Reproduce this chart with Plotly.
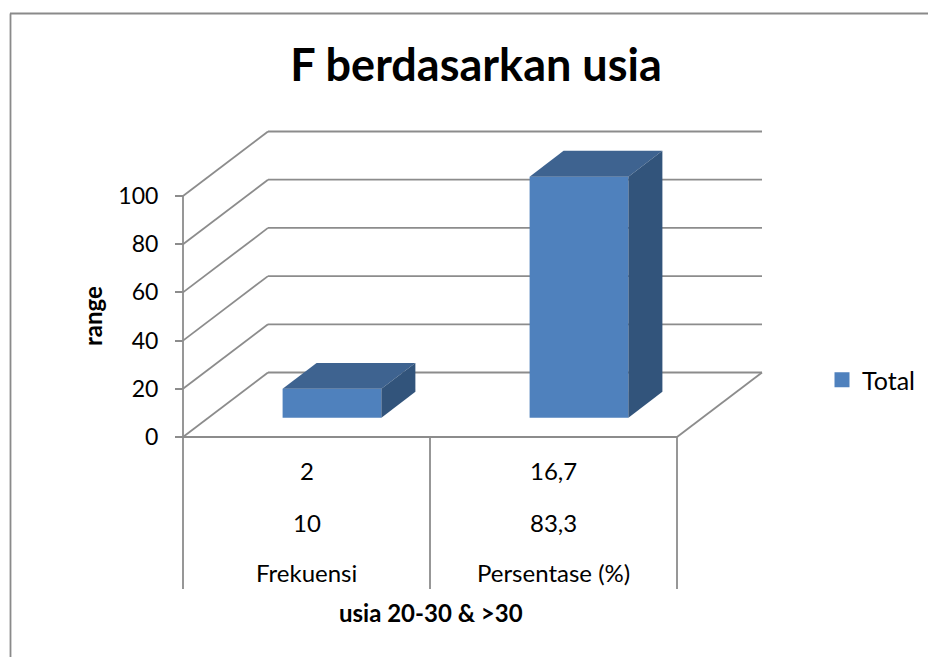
import plotly.graph_objects as go

categories = ["Frekuensi", "Persentase (%)"]
row_top = [2, 16.7]
row_mid = [10, 83.3]
row_top_labels = ["2", "16,7"]
row_mid_labels = ["10", "83,3"]
y_ticks = [0, 20, 40, 60, 80, 100]
series_name = "Total"
totals = [a + b for a, b in zip(row_top, row_mid)]

W, H = 928, 657
X0, BAND = 183.0, 247.0        # px of the first category edge, px per category
Y0, UNIT = 437.0, 2.41         # px of value 0, px per value unit
DEPTH_X = 85 / BAND            # floor depth in x units
DEPTH_Y = 64.5 / UNIT          # floor depth in y units
BAR_W = 0.4
D0, D1 = 0.3, 0.7              # bar start / end along the depth
n = len(categories)

GRID = "#8C8C8C"
BLUE = "#4F81BD"
FONT = "Lato, Carlito, sans-serif"


def px_y(p):
    return (Y0 - p) / UNIT


shapes = [
    dict(type="line", xref="paper", yref="paper", x0=10.5 / W, x1=10.5 / W, y0=0, y1=1 - 13.5 / H,
         line=dict(color="#8A8A8A", width=1.8), layer="below"),
    dict(type="line", xref="paper", yref="paper", x0=10 / W, x1=1, y0=1 - 13.5 / H, y1=1 - 13.5 / H,
         line=dict(color="#8A8A8A", width=1.8), layer="below"),
]


def seg(x0, y0, x1, y1):
    return dict(type="line", xref="x", yref="y", x0=x0, y0=y0, x1=x1, y1=y1,
                line=dict(color=GRID, width=1.8), layer="below")


for t in y_ticks:
    shapes.append(seg(0, t, DEPTH_X, t + DEPTH_Y))
    shapes.append(seg(DEPTH_X, t + DEPTH_Y, n + DEPTH_X, t + DEPTH_Y))
shapes.append(seg(0, 0, n, 0))
shapes.append(seg(n, 0, n + DEPTH_X, DEPTH_Y))
shapes.append(seg(0, px_y(589), 0, y_ticks[-1]))
for i in range(1, n + 1):
    shapes.append(seg(i, 0, i, px_y(589)))

fig = go.Figure()
centers = [i + 0.5 + D0 * DEPTH_X for i in range(n)]
bases = [D0 * DEPTH_Y] * n
fig.add_trace(go.Bar(x=centers, y=totals, base=bases, width=BAR_W, name=series_name,
                     marker=dict(color=BLUE, line=dict(width=0)),
                     hoverinfo="skip", showlegend=False))
fig.add_trace(go.Scatter(x=[None], y=[None], mode="markers", name=series_name,
                         marker=dict(color=BLUE, symbol="square", size=15), hoverinfo="skip"))

ddx = (D1 - D0) * DEPTH_X
ddy = (D1 - D0) * DEPTH_Y
for c, b, v in zip(centers, bases, totals):
    l, r = c - BAR_W / 2, c + BAR_W / 2
    t = b + v
    fig.add_trace(go.Scatter(x=[l, r, r + ddx, l + ddx, l], y=[t, t, t + ddy, t + ddy, t],
                             mode="lines", fill="toself", fillcolor="#3E6390",
                             line=dict(width=0), showlegend=False, hoverinfo="skip"))
    fig.add_trace(go.Scatter(x=[r, r + ddx, r + ddx, r, r], y=[b, b + ddy, t + ddy, t, b],
                             mode="lines", fill="toself", fillcolor="#32547B",
                             line=dict(width=0), showlegend=False, hoverinfo="skip"))

annotations = []
for i in range(n):
    for text, p in ((row_top_labels[i], 470), (row_mid_labels[i], 522), (categories[i], 572)):
        annotations.append(dict(x=i + 0.5, y=px_y(p), xref="x", yref="y", text=text, showarrow=False,
                                xanchor="center", yanchor="middle",
                                font=dict(family=FONT, size=24, color="#000000")))
annotations.append(dict(x=(431 - X0) / BAND, y=px_y(612), xref="x", yref="y", text="<b>usia 20-30 &amp; &gt;30</b>",
                        showarrow=False, xanchor="center", yanchor="middle",
                        font=dict(family=FONT, size=24, color="#000000")))
annotations.append(dict(x=(92 - X0) / BAND, y=px_y(316), xref="x", yref="y", text="<b>range</b>", textangle=-90,
                        showarrow=False, xanchor="center", yanchor="middle",
                        font=dict(family=FONT, size=24, color="#000000")))

fig.update_layout(
    width=W, height=H, margin=dict(l=0, r=0, t=0, b=0), autosize=False,
    paper_bgcolor="white", plot_bgcolor="white",
    title=dict(text="<b>F berdasarkan usia</b>", x=476 / W, xanchor="center", y=1 - 65 / H, yanchor="middle",
               xref="paper", yref="paper", font=dict(family=FONT, size=45, color="#000000")),
    xaxis=dict(range=[-X0 / BAND, (W - X0) / BAND], domain=[0, 1], visible=False, fixedrange=True),
    yaxis=dict(range=[px_y(H), px_y(0)], domain=[0, 1], anchor="free", position=X0 / W,
               tickmode="array", tickvals=y_ticks, ticktext=[str(t) for t in y_ticks],
               ticks="outside", ticklen=8, tickwidth=1.8, tickcolor=GRID, ticklabelstandoff=12,
               showgrid=False, zeroline=False, showline=False,
               tickfont=dict(family=FONT, size=23, color="#000000")),
    legend=dict(x=822 / W, y=1 - 380 / H, xanchor="left", yanchor="middle", bgcolor="rgba(0,0,0,0)",
                font=dict(family=FONT, size=25, color="#000000"), itemwidth=30),
    showlegend=True, shapes=shapes, annotations=annotations,
)
fig.write_html("out.html", config={"displayModeBar": False},
               post_script="document.body.style.margin='0';document.body.style.overflow='hidden';")
